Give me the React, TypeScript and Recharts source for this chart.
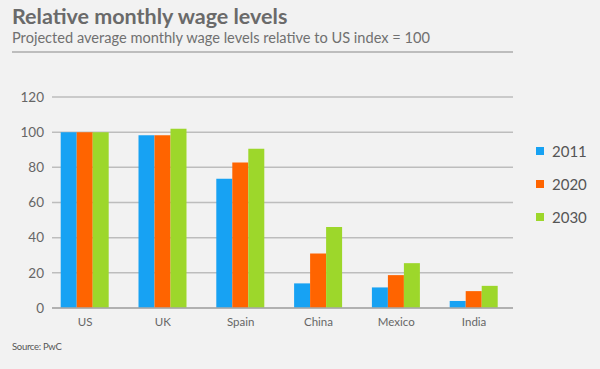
import React from "react";
import { BarChart, Bar, XAxis, YAxis, CartesianGrid } from "recharts";

const countries = ["US", "UK", "Spain", "China", "Mexico", "India"];
const wages2011 = [100, 98.3, 73.5, 14, 11.7, 4];
const wages2020 = [100, 98.3, 82.8, 31, 18.7, 9.6];
const wages2030 = [100, 101.9, 90.5, 46, 25.5, 12.6];
const yTicks = [0, 20, 40, 60, 80, 100, 120];
const seriesNames = ["2011", "2020", "2030"];
const colors = ["#17a2f3", "#ff6400", "#9dd72b"];

const data = countries.map((c, i) => ({
  country: c,
  "2011": wages2011[i],
  "2020": wages2020[i],
  "2030": wages2030[i],
}));

const FONT = "Lato, 'Open Sans', sans-serif";

export default function App() {
  return (
    <div
      style={{
        position: "absolute",
        left: 0,
        top: 0,
        width: 600,
        height: 369,
        background: "#f2f2f2",
        fontFamily: FONT,
        overflow: "hidden",
      }}
    >
      <div
        style={{
          position: "absolute",
          left: 12,
          top: 3,
          fontSize: 21.5,
          lineHeight: "26px",
          fontWeight: 700,
          color: "#6a6a6a",
          whiteSpace: "nowrap",
        }}
      >
        Relative monthly wage levels
      </div>
      <div
        style={{
          position: "absolute",
          left: 12,
          top: 29,
          fontSize: 14.6,
          lineHeight: "18px",
          color: "#707070",
          whiteSpace: "nowrap",
        }}
      >
        Projected average monthly wage levels relative to US index = 100
      </div>
      <div
        style={{
          position: "absolute",
          left: 12,
          top: 51,
          width: 501,
          height: 2,
          background: "#bdbdbd",
        }}
      />
      <div style={{ position: "absolute", left: 0, top: 0 }}>
        <BarChart
          width={600}
          height={369}
          data={data}
          margin={{ top: 97, right: 87, bottom: 31, left: 0 }}
          barGap={0}
          barCategoryGap={14.5}
        >
          <CartesianGrid vertical={false} stroke="#bdbdbd" strokeWidth={1.5} />
          <XAxis
            dataKey="country"
            height={30}
            tickLine={false}
            axisLine={{ stroke: "#a8a8a8", strokeWidth: 1.5 }}
            tick={{ fill: "#666", fontSize: 11.5, fontFamily: FONT }}
            tickMargin={4}
            padding={{ left: -5.8, right: 0 }}
            interval={0}
          />
          <YAxis
            width={52}
            domain={[0, 120]}
            ticks={yTicks}
            axisLine={false}
            tickLine={false}
            tick={{ fill: "#666", fontSize: 13.5, fontFamily: FONT }}
          />
          {seriesNames.map((s, i) => (
            <Bar key={s} dataKey={s} fill={colors[i]} isAnimationActive={false} />
          ))}
        </BarChart>
      </div>
      <div style={{ position: "absolute", left: 536, top: 134 }}>
        {seriesNames.map((s, i) => (
          <div key={s} style={{ display: "flex", alignItems: "center", height: 33.3 }}>
            <div style={{ width: 8, height: 8, background: colors[i], marginRight: 8 }} />
            <span style={{ fontSize: 15, color: "#555" }}>{s}</span>
          </div>
        ))}
      </div>
      <div
        style={{
          position: "absolute",
          left: 12,
          top: 341,
          fontSize: 9.5,
          lineHeight: "12px",
          color: "#555",
          letterSpacing: -0.3,
          whiteSpace: "nowrap",
        }}
      >
        Source: PwC
      </div>
    </div>
  );
}
